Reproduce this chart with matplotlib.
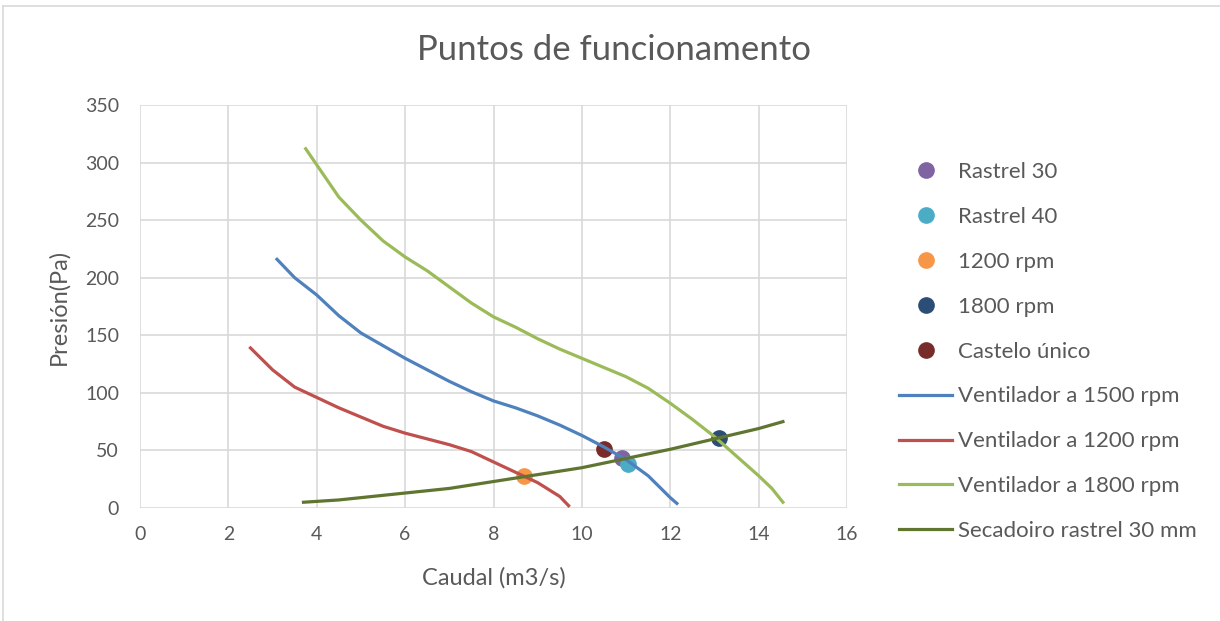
import matplotlib
matplotlib.use("Agg")
import matplotlib.pyplot as plt
from matplotlib.lines import Line2D

plt.rcParams['font.family'] = ['Lato', 'DejaVu Sans']

# fan curves
q_1500 = [3.1, 3.5, 4.0, 4.5, 5.0, 5.5, 6.0, 6.5, 7.0, 7.5, 8.0, 8.5, 9.0, 9.5, 10.0, 10.5, 11.0, 11.5, 12.0, 12.15]
p_1500 = [216, 200, 185, 167, 152, 141, 130, 120, 110, 101, 93, 87, 80, 72, 63, 53, 42, 28, 9, 4]

q_1200 = [2.5, 3.0, 3.5, 4.0, 4.5, 5.0, 5.5, 6.0, 6.5, 7.0, 7.5, 8.0, 8.5, 9.0, 9.5, 9.7]
p_1200 = [139, 120, 105, 96, 87, 79, 71, 65, 60, 55, 49, 40, 31, 22, 10, 2]

q_1800 = [3.75, 4.0, 4.5, 5.0, 5.5, 6.0, 6.5, 7.0, 7.5, 8.0, 8.5, 9.0, 9.5, 10.0, 10.5, 11.0, 11.5, 12.0, 12.5, 13.0, 13.5, 14.0, 14.3, 14.55]
p_1800 = [312, 298, 270, 250, 232, 218, 206, 192, 178, 166, 157, 147, 138, 130, 122, 114, 104, 91, 77, 62, 45, 28, 17, 5]

q_sec = [3.7, 4.5, 5.0, 6.0, 7.0, 8.0, 9.0, 10.0, 11.0, 12.0, 13.0, 14.0, 14.55]
p_sec = [5, 7, 9, 13, 17, 23, 29, 35, 43, 51, 60, 69, 75]

# operating points
pt_names = ["Rastrel 30", "Rastrel 40", "1200 rpm", "1800 rpm", "Castelo único"]
pt_q = [10.9, 11.05, 8.7, 13.1, 10.5]
pt_p = [43, 38, 28, 61, 51]
pt_colors = ["#8064A2", "#4BACC6", "#F79646", "#2C4D75", "#772C2A"]

line_names = ["Ventilador a 1500 rpm", "Ventilador a 1200 rpm", "Ventilador a 1800 rpm", "Secadoiro rastrel 30 mm"]
line_colors = ["#4F81BD", "#C0504D", "#9BBB59", "#5F7530"]

txt = "#595959"

fig = plt.figure(figsize=(12.2, 6.21), dpi=100)
ax = fig.add_axes([140/1220, 1-508/621, (847-140)/1220, (508-105)/621])

handles = []
for q, p, c, n in zip(pt_q, pt_p, pt_colors, pt_names):
    h, = ax.plot([q], [p], 'o', color=c, markersize=11, zorder=2, label=n, linestyle='none')
    handles.append(h)

for (q, p), c, n in zip([(q_1500, p_1500), (q_1200, p_1200), (q_1800, p_1800), (q_sec, p_sec)], line_colors, line_names):
    h, = ax.plot(q, p, color=c, lw=2.3, zorder=3, label=n)
    handles.append(h)

ax.set_xlim(0, 16)
ax.set_ylim(0, 350)
ax.set_xticks(range(0, 17, 2))
ax.set_yticks(range(0, 351, 50))
ax.grid(True, color="#D9D9D9", lw=1.2)
ax.set_axisbelow(True)
for s in ax.spines.values():
    s.set_visible(False)
ax.tick_params(length=0, labelsize=14, colors=txt)
ax.tick_params(axis='y', pad=15)
ax.tick_params(axis='x', pad=13)
ax.set_xlabel("Caudal (m3/s)", fontsize=17, color=txt, labelpad=17)
ax.set_ylabel("Presión(Pa)", fontsize=17, color=txt, labelpad=11)
fig.suptitle("Puntos de funcionamento", x=614/1220, y=1-50/621, va='center', fontsize=25, color=txt)

leg = fig.legend(handles=handles, loc='upper left', bbox_to_anchor=(879/1220, 1-142/621),
                 frameon=False, fontsize=16, labelspacing=1.12, handlelength=2.4,
                 handletextpad=0.25, labelcolor=txt)

# chart frame edges
fig.add_artist(Line2D([3/1220, 1], [1-6/621, 1-6/621], color="#D9D9D9", lw=1.2))
fig.add_artist(Line2D([3/1220, 3/1220], [0, 1-6/621], color="#D9D9D9", lw=1.2))

fig.savefig("out.png", dpi=100)
